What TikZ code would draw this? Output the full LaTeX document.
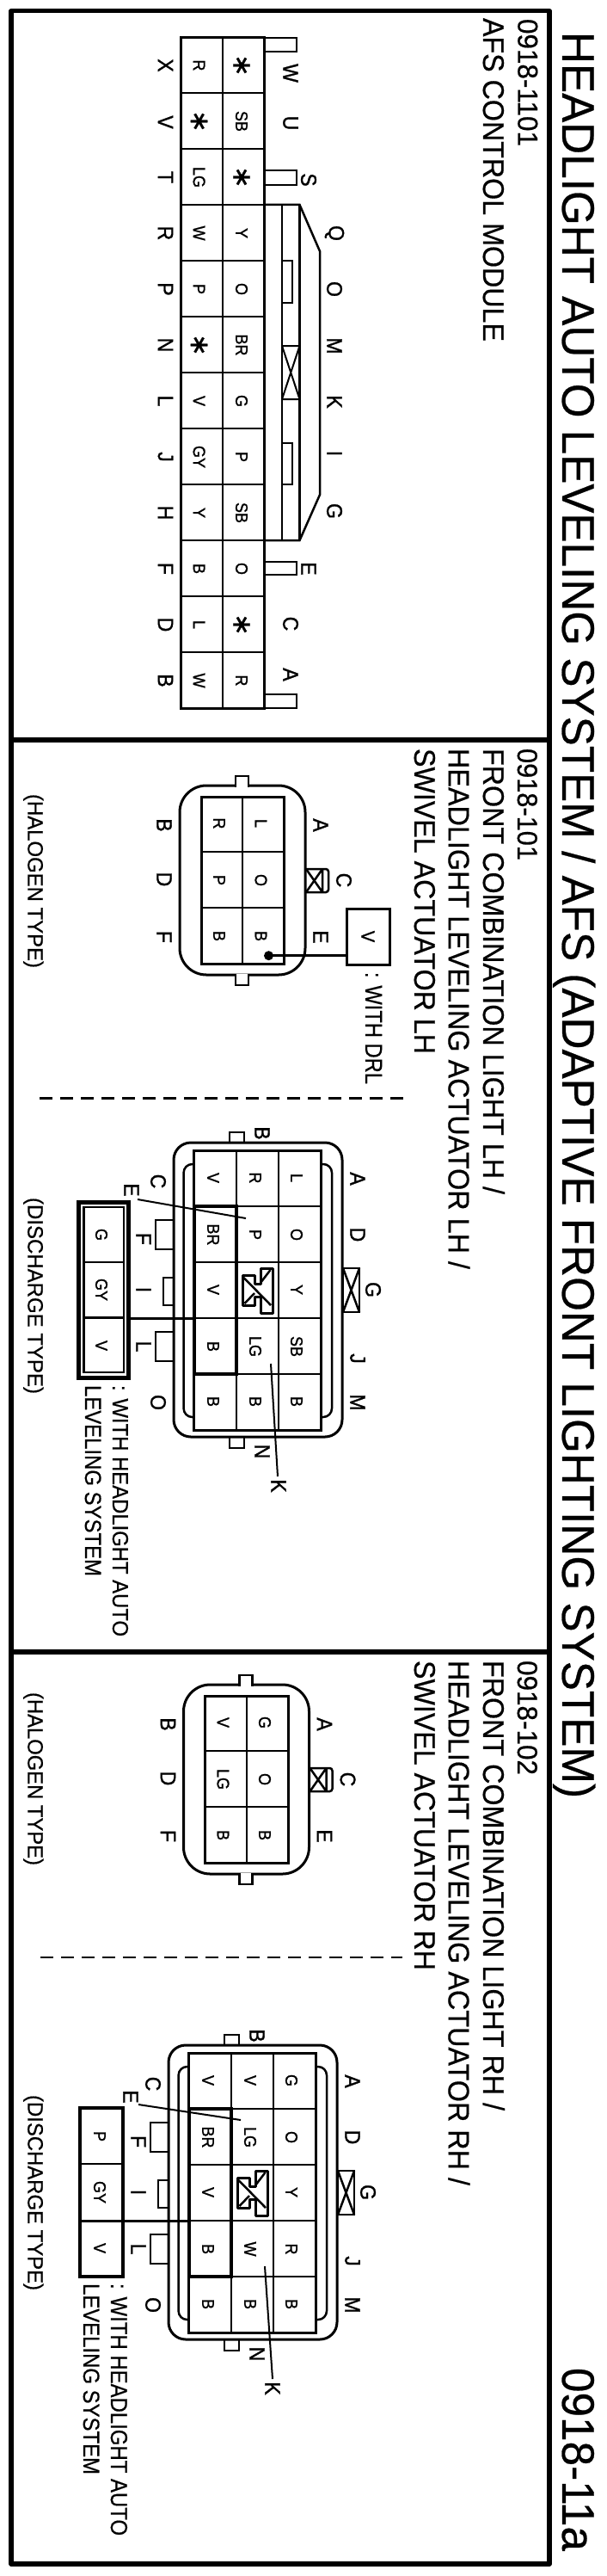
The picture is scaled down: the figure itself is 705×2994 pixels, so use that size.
\documentclass[tikz,border=0pt]{standalone}
\usepackage{fontspec}
\setmainfont{Liberation Sans}
\newfontfamily\hvl[FakeBold=0.5]{Liberation Sans}
\newfontfamily\hvb[FakeBold=1.2]{Liberation Sans}
\newfontfamily\djv[FakeBold=1]{DejaVu Sans}
\newsavebox\fitbox
\newcounter{nc}
\newcommand\Fit[3]{\sbox\fitbox{\fontsize{10}{12}\hvl #3}\pgfmathsetmacro\fsx{#1/\the\wd\fitbox}\pgfmathsetmacro\fsy{#2/7.16}\scalebox{\fsx}[\fsy]{\usebox\fitbox}}
% long text: baseline x, start y, length along the reading direction, cap height
\newcommand\Txt[5]{\stepcounter{nc}\node (t\arabic{nc}) [longtext] at (#1,#2) {\Fit{#3}{#4}{#5}};}
\newcommand\Pin[3]{\stepcounter{nc}\node (p\arabic{nc}) [letter] at (#1,#2) {\scalebox{1}[1.1]{\fontsize{23}{23}\hvb #3}};}
\newcommand\Cel[3]{\stepcounter{nc}\node (c\arabic{nc}) [letter] at (#1,#2) {\scalebox{1}[1.1]{\fontsize{18}{18}\hvb #3}};}
\newcommand\Ast[2]{\stepcounter{nc}\node (s\arabic{nc}) [letter] at (#1,#2) {\fontsize{31}{31}\djv ∗};}
\tikzset{
  longtext/.style={rotate=-90,anchor=base west,inner sep=0pt,outer sep=0pt},
  letter/.style={rotate=-90,anchor=center,inner sep=0pt,outer sep=0pt},
  frameline/.style={line width=5.5pt,line join=round},
  heavy/.style={line width=3pt},
  med/.style={line width=2.5pt},
  thin line/.style={line width=2pt},
  leader/.style={line width=2pt},
  dashline/.style={line width=2.5pt,dash pattern=on 15pt off 9pt},
  zicon/.pic={
    \draw[line width=3pt,line join=round] (-17.5,-18)--(-3.5,-18)--(-3.5,-8)--(3.5,-8)--(3.5,-26)--(17.5,-26)--(17.5,26)--(3.5,26)--(3.5,7)--(-3.5,7)--(-3.5,17)--(-17.5,17)--cycle;
    \draw[line width=2.5pt] (-16,-15)--(15.5,17);
    \draw[line width=2.5pt] (-15,15)--(-3.5,3) (3.5,-9)--(15,-24);
  }
}
\newcommand\Halo[6]{%
  \draw[heavy,rounded corners=31pt] (209,913) rectangle (355,1133);
  \draw[med,fill=white] (274,914.5)--(274,902)--(289,902)--(289,914.5);
  \draw[med,fill=white] (274,1131.5)--(274,1145)--(289,1145)--(289,1131.5);
  \draw[heavy] (234,926) rectangle (330.5,1120.7);
  \draw[thin line] (282,926)--(282,1120.7) (234,1055)--(330.5,1055);
  \draw[med] (234,990)--(330.5,990);
  \Cel{303.5}{957}{#1}\Cel{255}{957}{#2}
  \Cel{303.5}{1023}{#3}\Cel{255}{1023}{#4}
  \Cel{303.5}{1088}{#5}\Cel{255}{1088}{#6}
  \Pin{373}{959}{A}\Pin{400}{1023}{C}\Pin{373}{1089}{E}
  \Pin{191}{959}{B}\Pin{191}{1022}{D}\Pin{191}{1089}{F}
  \draw[med,rounded corners=3pt] (355,1010)--(382,1010)--(382,1037)--(355,1037);
  \draw[med] (375,1010)--(375,1037) (356,1010)--(375,1037) (356,1037)--(375,1010);
}
% body of the discharge-type connector
\newcommand\Disch[2]{%
  \draw[heavy,rounded corners=20pt] (202,1328) rectangle (398,1670);
  \draw[med] (267,1328)--(267,1316)--(284,1316)--(284,1328);
  \draw[med] (267,1670)--(267,1683)--(284,1683)--(284,1670);
  \draw[med,rounded corners=10pt] (225.7,1353)--(213.6,1353)--(213.6,1647)--(225.7,1647);
  \draw[med,rounded corners=10pt] (373,1353)--(386,1353)--(386,1647)--(373,1647);
  \draw[heavy] (225.7,1337) rectangle (373,1662);
  \draw[thin line] (275,1337)--(275,1662) (324,1337)--(324,1662);
  \draw[thin line] (225.7,1402)--(373,1402) (225.7,1597)--(373,1597) (225.7,1532)--(373,1532);
  \draw[med] (225.7,1467)--(373,1467);
  \draw[line width=4pt] (225.7,1402)--(275,1402)--(275,1597)--(225.7,1597)--cycle;
  \foreach \yy/\aa/\bb in {#1}{\Cel{345}{\yy}{\aa}\Cel{248}{\yy}{\bb}}
  \foreach \yy/\cc in {#2}{\Cel{297}{\yy}{\cc}}
  \pic at (299.5,1500) {zicon};
  \Pin{416}{1370}{A}\Pin{416}{1435}{D}\Pin{434}{1499}{G}\Pin{416}{1579}{J}\Pin{416}{1630}{M}
  \Pin{305}{1317}{B}\Pin{305}{1687}{N}
  \Pin{184}{1373}{C}\Pin{167}{1440}{F}\Pin{167}{1499}{I}\Pin{167}{1565}{L}\Pin{184}{1630}{O}
  \draw[med] (202,1418)--(181,1418)--(181,1452)--(202,1452);
  \draw[med] (202,1485)--(190,1485)--(190,1517)--(202,1517);
  \draw[med] (202,1548)--(181,1548)--(181,1582)--(202,1582);
  \draw[med] (399,1474) rectangle (418,1525);
  \draw[med] (399,1474)--(418,1525) (399,1525)--(418,1474);
}
\begin{document}
\begin{tikzpicture}[x=1pt,y=-1pt]
\useasboundingbox (0,0) rectangle (705,2994);
\fill[white] (0,0) rectangle (705,2994);
% frame
\draw[frameline] (13,12.7) rectangle (639,2980);
\draw[frameline] (13,860)--(639,860) (13,1920)--(639,1920);
% titles
\Txt{654}{37}{2053}{38}{HEADLIGHT AUTO LEVELING SYSTEM / AFS (ADAPTIVE FRONT LIGHTING SYSTEM)}
\Txt{654}{2752}{213}{38}{0918-11a}
% AFS control module
\Txt{602.5}{22}{148}{23.5}{0918-1101}
\Txt{562}{21}{376}{24.7}{AFS CONTROL MODULE}
\draw[heavy] (210.5,44) rectangle (307,823);
\draw[thin line] (259,44)--(259,823);
\foreach \yy in {108,173,238,303,368,433,498,563,628,693,758}{\draw[med] (210.5,\yy)--(307,\yy);}
\foreach \yy/\aa/\bb in {76/R/X,206/LG/T,271/W/R,336/P/P,466/V/L,531/GY/J,596/Y/H,661/B/F,726/L/D,791/W/B}{\Cel{231.6}{\yy}{\aa}\Pin{192.5}{\yy}{\bb}}
\Ast{231.6}{141}\Pin{192.5}{142}{V}
\Ast{231.6}{401}\Pin{192.5}{401}{N}
\foreach \yy/\aa in {141/SB,271/Y,336/O,401/BR,466/G,531/P,596/SB,661/O,791/R}{\Cel{281}{\yy}{\aa}}
\Ast{281}{76}\Ast{281}{206}\Ast{281}{726}
\Pin{338}{85}{W}\Pin{338}{143}{U}\Pin{359}{209}{S}\Pin{389}{271}{Q}\Pin{389}{336}{O}\Pin{389}{402}{M}
\Pin{389}{467}{K}\Pin{389}{527}{I}\Pin{389}{594}{G}\Pin{359}{661}{E}\Pin{338}{725}{C}\Pin{338}{784}{A}
\draw[med] (307,44)--(345,44)--(345,60)--(307,60);
\draw[med] (307,198)--(345,198)--(345,215)--(307,215);
\draw[med] (307,653)--(345,653)--(345,668)--(307,668);
\draw[med] (307,807)--(345,807)--(345,823)--(307,823);
\draw[med] (307,238)--(348.5,238)--(372,292)--(372,575)--(348.5,628)--(307,628);
\draw[med] (328,238)--(328,628) (348.5,238)--(348.5,628);
\draw[thin line] (328,303) rectangle (340,352) (328,515) rectangle (340,563);
\draw[thin line] (328,402)--(348.5,402) (328,464)--(348.5,464) (328,402)--(348.5,464) (348.5,402)--(328,464);
% 0918-101
\Txt{602}{870}{130}{23.5}{0918-101}
\Txt{562}{870}{518}{24.7}{FRONT COMBINATION LIGHT LH /}
\Txt{521.6}{870}{605}{24.7}{HEADLIGHT LEVELING ACTUATOR LH /}
\Txt{482}{870}{355}{24.7}{SWIVEL ACTUATOR LH}
\Halo{L}{R}{O}{P}{B}{B}
\node (vbox) [letter,draw,line width=3pt,minimum width=65pt,minimum height=50pt] at (428,1088.5) {\scalebox{1}[1.1]{\fontsize{20}{20}\hvb V}};
\coordinate (dotA) at (312.5,1110.7);
\fill (dotA) ellipse (5.5pt and 5.5pt);
\draw[med] (dotA)--(dotA-|vbox.south);
\Txt{425}{1130}{130}{20}{: WITH DRL}
\Txt{32.4}{923}{202}{18}{(HALOGEN TYPE)}
\coordinate (dashA) at (46,1276.7);\coordinate (dashB) at (470,1276.7);
\draw[dashline] (dashA)--(dashB);
\Disch{1369/L/V,1435/O/BR,1499/Y/V,1565/SB/B,1629/B/B}{1369/R,1435/P,1565/LG,1629/B}
\Pin{153}{1383}{E}
\coordinate (eA) at (160,1394);\coordinate (eB) at (286,1416);
\draw[leader] (eA)--(eB);
\coordinate (kA) at (315,1585);\coordinate (kB) at (323,1716);
\draw[leader] (kA)--(kB);
\Pin{324}{1727}{K}
\draw[line width=5pt] (91,1397.5) rectangle (149,1601);
\draw[med] (97.5,1403) rectangle (144,1595);
\draw[med] (97.5,1467)--(144,1467);
\draw[heavy] (97.5,1531)--(144,1531);
\coordinate (wA) at (149,1532);\coordinate (wB) at (225.7,1532);
\draw[heavy] (wA)--(wB);
\Cel{118}{1435}{G}\Cel{118}{1499}{GY}\Cel{118}{1564}{V}
\Txt{131}{1610}{292}{18.5}{: WITH HEADLIGHT AUTO}
\Txt{99}{1610}{222}{19}{LEVELING SYSTEM}
\Txt{32.4}{1392}{228}{18}{(DISCHARGE TYPE)}
% 0918-102
\Txt{602}{1930}{133}{23.5}{0918-102}
\Txt{562}{1930}{523}{24.7}{FRONT COMBINATION LIGHT RH /}
\Txt{521.6}{1930}{610}{24.7}{HEADLIGHT LEVELING ACTUATOR RH /}
\Txt{482}{1930}{360}{24.7}{SWIVEL ACTUATOR RH}
\begin{scope}[shift={(4.5,1045)}]
\Halo{G}{V}{O}{LG}{B}{B}
\end{scope}
\Txt{32.4}{1967}{201}{18}{(HALOGEN TYPE)}
\coordinate (dashC) at (47,2275);\coordinate (dashD) at (468,2275);
\draw[dashline] (dashC)--(dashD);
\begin{scope}[shift={(-6,1049)}]
\Disch{1369/G/V,1435/O/BR,1499/Y/V,1565/R/B,1629/B/B}{1369/V,1435/LG,1565/W,1629/B}
\end{scope}
\Pin{152}{2437}{E}
\coordinate (fA) at (161,2446);\coordinate (fB) at (280,2464);
\draw[leader] (fA)--(fB);
\coordinate (gA) at (308,2634);\coordinate (gB) at (317,2765);
\draw[leader] (gA)--(gB);
\Pin{317}{2776}{K}
\draw[line width=4pt] (93,2450) rectangle (142.5,2646);
\draw[med] (93,2515)--(142.5,2515);
\draw[heavy] (93,2581)--(142.5,2581);
\coordinate (xA) at (142.5,2581);\coordinate (xB) at (220,2581);
\draw[heavy] (xA)--(xB);
\Cel{116}{2483}{P}\Cel{116}{2548}{GY}\Cel{116}{2613}{V}
\Txt{129}{2654}{293}{19.5}{: WITH HEADLIGHT AUTO}
\Txt{97}{2654}{222}{19}{LEVELING SYSTEM}
\Txt{32.4}{2435}{227}{18}{(DISCHARGE TYPE)}
\end{tikzpicture}
\end{document}
